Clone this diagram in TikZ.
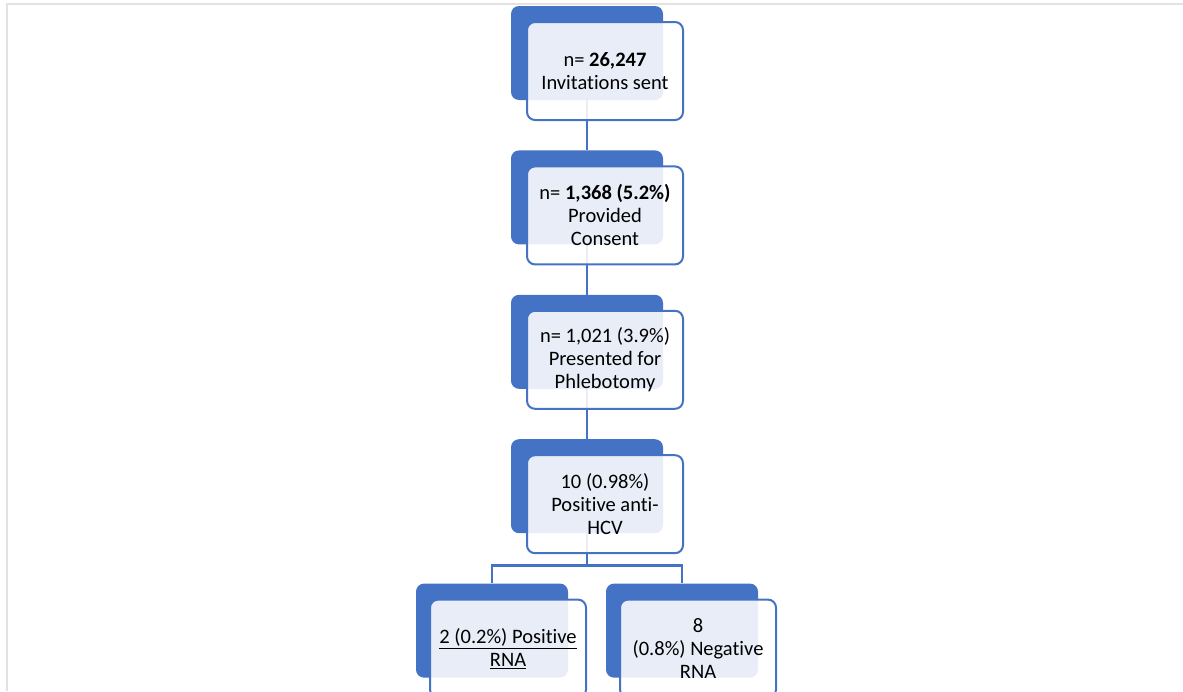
\documentclass[tikz,border=0pt]{standalone}
\usepackage{fontspec}
\setmainfont{Carlito}[Ligatures=NoCommon]
\usetikzlibrary{
  positioning,
  backgrounds
}
\definecolor{smartblue}{HTML}{4472C4}
\definecolor{framegray}{HTML}{E2E2E2}
\tikzset{
  node distance=50pt,
  back/.style={fill=smartblue, rounded corners=8pt, minimum width=152pt, minimum height=94pt},
  front/.style={draw=smartblue, line width=2pt, fill=white, fill opacity=0.88, text opacity=1,
    rounded corners=8pt, minimum width=156pt, minimum height=98pt, align=center,
    font=\fontsize{20.5}{23}\selectfont},
  link/.style={draw=smartblue, line width=2.8pt}
}

\begin{document}
\begin{tikzpicture}[x=1pt, y=1pt]
    \useasboundingbox (0,0) rectangle (1183,-691);
    \clip (0,0) rectangle (1183,-691);
    \node[back] (b1) at (587,-53) {};
    \node[back, below=of b1] (b2) {};
    \node[back, below=of b2] (b3) {};
    \node[back, below=of b3] (b4) {};
    \node[back, below=of b4, xshift=-95pt] (b5) {};
    \node[back, below=of b4, xshift=95pt] (b6) {};
    \node[front] (f1) at ([shift={(18,-18)}]b1.center) {n= \textbf{26,247}\\Invitations sent};
    \node[front] (f2) at ([shift={(18,-18)}]b2.center) {n= \textbf{1,368 (5.2\%)}\\Provided\\Consent};
    \node[front] (f3) at ([shift={(18,-18)}]b3.center) {n= 1,021 (3.9\%)\\Presented for\\Phlebotomy};
    \node[front] (f4) at ([shift={(18,-18)}]b4.center) {10 (0.98\%)\\Positive anti-\\HCV};
    \node[front] (f5) at ([shift={(16,-18)}]b5.center) {\underline{2 (0.2\%) Positive}\\\underline{RNA}};
    \node[front] (f6) at ([shift={(16,-18)}]b6.center) {8\\(0.8\%) Negative\\RNA};
    \coordinate (split) at ([yshift=-32pt]b4.south);
    \begin{scope}[on background layer]
      \draw[framegray, line width=1.5pt] (7,-691) -- (7,-4) -- (1183,-4);
      \draw[link] (b1.south) -- (b2.north);
      \draw[link] (b2.south) -- (b3.north);
      \draw[link] (b3.south) -- (b4.north);
      \draw[link] (b4.south) -- (split);
      \draw[link] (b5.north) |- (split) -| (b6.north);
    \end{scope}
\end{tikzpicture}
\end{document}
